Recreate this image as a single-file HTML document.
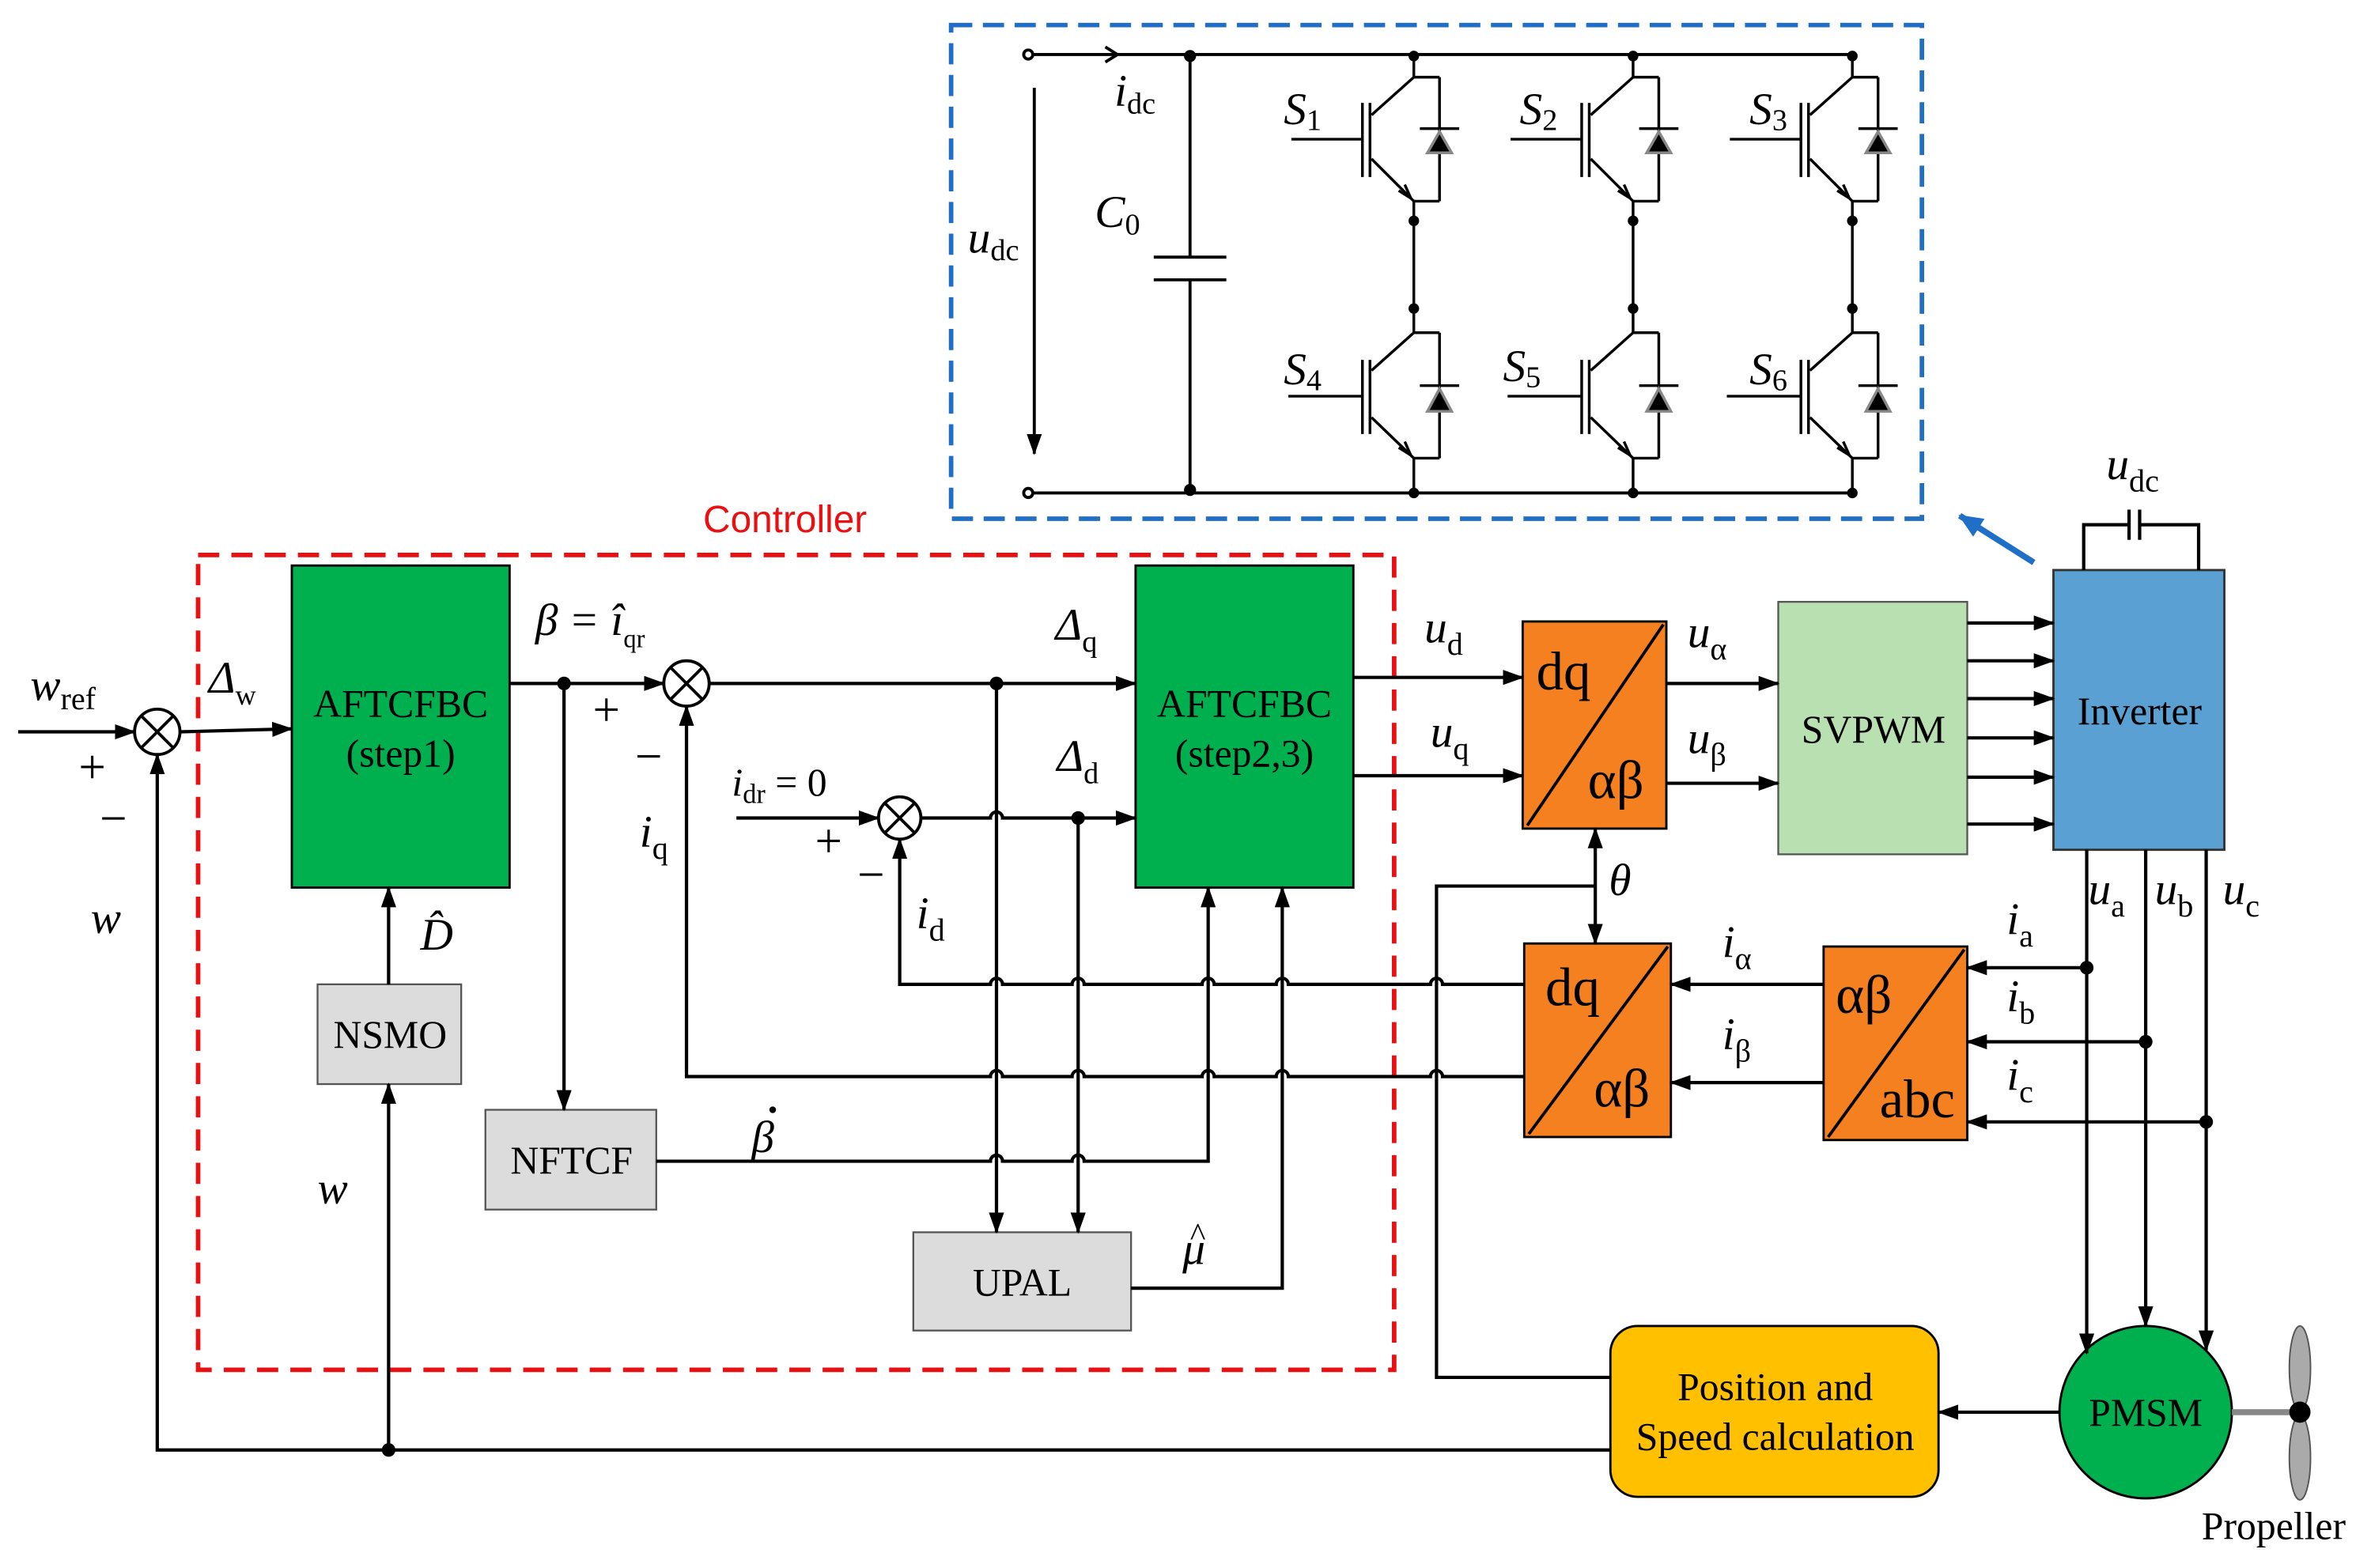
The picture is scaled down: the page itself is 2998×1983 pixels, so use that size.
<!DOCTYPE html>
<html><head><meta charset="utf-8"><style>html,body{margin:0;padding:0;background:#fff}svg{display:block}</style></head>
<body>
<svg width="2998" height="1983" viewBox="0 0 1568 1037" xmlns="http://www.w3.org/2000/svg" font-family="'Liberation Serif',serif">
<defs>
<marker id="a" markerUnits="userSpaceOnUse" markerWidth="14" markerHeight="10" refX="13" refY="5" orient="auto"><path d="M0,0 L14,5 L0,10 z" fill="#000"/></marker>
<marker id="b" markerUnits="userSpaceOnUse" markerWidth="16" markerHeight="14" refX="15" refY="7" orient="auto"><path d="M0,0 L16,7 L0,14 z" fill="#1f6fc8"/></marker>
</defs>
<rect width="1568" height="1037" fill="#fff"/>
<rect x="629" y="16.5" width="642" height="326.5" fill="none" stroke="#1f6fc8" stroke-width="3" stroke-dasharray="14,7"/>
<rect x="131" y="367" width="791" height="539" fill="none" stroke="#e81010" stroke-width="3" stroke-dasharray="14,8"/>
<text x="465" y="352" font-family="'Liberation Sans',sans-serif" font-size="25" fill="#e81010">Controller</text>
<g stroke="#000" stroke-width="2" fill="none">
<line x1="683" y1="36" x2="1225" y2="36"/><line x1="683" y1="326" x2="1225" y2="326"/>
<circle cx="680" cy="36" r="3" fill="#fff"/><circle cx="680" cy="326" r="3" fill="#fff"/>
<polyline points="731,31 739,36 731,41"/>
<line x1="684" y1="58" x2="684" y2="300" marker-end="url(#a)"/>
<line x1="787" y1="36" x2="787" y2="170"/><line x1="763" y1="170" x2="811" y2="170"/><line x1="763" y1="185" x2="811" y2="185"/><line x1="787" y1="185" x2="787" y2="326"/>
</g>
<g fill="#000"><circle cx="787" cy="37" r="4"/><circle cx="787" cy="324" r="4"/></g>
<g id="leg" stroke="#000" stroke-width="1.8" fill="none">
<line x1="935" y1="36" x2="935" y2="51"/><line x1="935" y1="51" x2="907" y2="76"/><line x1="935" y1="51" x2="952" y2="51"/><line x1="952" y1="51" x2="952" y2="133"/>
<line x1="901" y1="68" x2="901" y2="117"/><line x1="906" y1="68" x2="906" y2="117"/><line x1="854" y1="92" x2="901" y2="92"/>
<line x1="907" y1="105" x2="935" y2="133"/><line x1="935" y1="133" x2="952" y2="133"/>
<line x1="939" y1="85" x2="965" y2="85"/><path d="M944,101 L952,87 L960,101 Z" fill="#000" stroke="#888"/>
<path d="M925,126 L933,131 L929,122" fill="none"/>
<line x1="935" y1="133" x2="935" y2="220"/>
<line x1="935" y1="220" x2="907" y2="245"/><line x1="935" y1="220" x2="952" y2="220"/><line x1="952" y1="220" x2="952" y2="303"/>
<line x1="901" y1="238" x2="901" y2="287"/><line x1="906" y1="238" x2="906" y2="287"/><line x1="852" y1="262" x2="901" y2="262"/>
<line x1="907" y1="276" x2="935" y2="303"/><line x1="935" y1="303" x2="952" y2="303"/>
<line x1="939" y1="255" x2="965" y2="255"/><path d="M944,272 L952,257 L960,272 Z" fill="#000" stroke="#888"/>
<path d="M925,296 L933,301 L929,292" fill="none"/>
<line x1="935" y1="303" x2="935" y2="326"/>
<circle cx="935" cy="37" r="3.5" fill="#000" stroke="none"/><circle cx="935" cy="146" r="3.5" fill="#000" stroke="none"/><circle cx="935" cy="204" r="3.5" fill="#000" stroke="none"/><circle cx="935" cy="326" r="3.5" fill="#000" stroke="none"/>
</g>
<use href="#leg" x="145"/><use href="#leg" x="290"/>
<g font-style="italic" font-size="30">
<text x="849" y="82">S<tspan font-size="20" font-style="normal" dy="4">1</tspan></text>
<text x="1005" y="82">S<tspan font-size="20" font-style="normal" dy="4">2</tspan></text>
<text x="1157" y="82">S<tspan font-size="20" font-style="normal" dy="4">3</tspan></text>
<text x="849" y="254">S<tspan font-size="20" font-style="normal" dy="4">4</tspan></text>
<text x="994" y="252">S<tspan font-size="20" font-style="normal" dy="4">5</tspan></text>
<text x="1157" y="254">S<tspan font-size="20" font-style="normal" dy="4">6</tspan></text>
<text x="737" y="70">i<tspan font-size="20" font-style="normal" dy="5">dc</tspan></text>
<text x="724" y="150">C<tspan font-size="20" font-style="normal" dy="5">0</tspan></text>
<text x="640" y="167">u<tspan font-size="20" font-style="normal" dy="5">dc</tspan></text>
</g>
<rect x="193" y="374" width="144" height="213" fill="#00b04f" stroke="#000" stroke-width="1.5"/>
<rect x="751" y="374" width="144" height="213" fill="#00b04f" stroke="#000" stroke-width="1.5"/>
<g font-size="26" text-anchor="middle"><text x="265" y="474">AFTCFBC</text><text x="265" y="507">(step1)</text>
<text x="823" y="474">AFTCFBC</text><text x="823" y="507">(step2,3)</text></g>
<g fill="#dcdcdc" stroke="#555" stroke-width="1.2"><rect x="210" y="651" width="95" height="66"/><rect x="321" y="734" width="113" height="66"/><rect x="604" y="815" width="144" height="65"/></g>
<g font-size="26" text-anchor="middle"><text x="258" y="693">NSMO</text><text x="378" y="776">NFTCF</text><text x="676" y="857">UPAL</text></g>
<g fill="#f5801f" stroke="#000" stroke-width="1.5"><rect x="1007" y="411" width="95" height="137"/><rect x="1008" y="624" width="97" height="128"/><rect x="1206" y="626" width="95" height="128"/></g>
<g stroke="#000" stroke-width="2"><line x1="1010" y1="546" x2="1100" y2="413"/><line x1="1011" y1="750" x2="1103" y2="626"/><line x1="1209" y1="752" x2="1299" y2="628"/></g>
<g font-size="36"><text x="1016" y="456">dq</text><text x="1050" y="528">αβ</text><text x="1022" y="665">dq</text><text x="1054" y="732">αβ</text><text x="1214" y="670">αβ</text><text x="1243" y="739">abc</text></g>
<rect x="1176" y="398" width="125" height="167" fill="#b8e0b0" stroke="#555" stroke-width="1.2"/>
<text x="1239" y="491" font-size="26" text-anchor="middle">SVPWM</text>
<rect x="1358" y="377" width="113" height="185" fill="#5ba0d2" stroke="#333" stroke-width="1.5"/>
<text x="1415" y="479" font-size="26" text-anchor="middle">Inverter</text>
<rect x="1065" y="877" width="217" height="113" rx="18" fill="#ffc000" stroke="#000" stroke-width="1.5"/>
<g font-size="26" text-anchor="middle"><text x="1174" y="926">Position and</text><text x="1174" y="959">Speed calculation</text></g>
<circle cx="1419" cy="934" r="57" fill="#00b04f" stroke="#000" stroke-width="1.5"/>
<text x="1419" y="943" font-size="26" text-anchor="middle">PMSM</text>
<line x1="1476" y1="934" x2="1521" y2="934" stroke="#888" stroke-width="4"/>
<ellipse cx="1521" cy="905" rx="7" ry="28" fill="#aaa" stroke="#555"/><ellipse cx="1521" cy="964" rx="7" ry="28" fill="#aaa" stroke="#555"/>
<circle cx="1521" cy="934" r="7" fill="#000"/>
<text x="1456" y="1018" font-size="26">Propeller</text>
<g fill="#fff" stroke="#000" stroke-width="2">
<circle cx="104" cy="484" r="15"/><circle cx="454" cy="452" r="15"/><circle cx="595" cy="541" r="14"/></g>
<g stroke="#000" stroke-width="2"><path d="M93,473 L115,495 M115,473 L93,495 M443,441 L465,463 M465,441 L443,463 M585,531 L605,551 M605,531 L585,551"/></g>
<g stroke="#000" stroke-width="2.2" fill="none">
<line x1="12" y1="484" x2="89" y2="484" marker-end="url(#a)"/>
<line x1="119" y1="484" x2="193" y2="482" marker-end="url(#a)"/>
<polyline points="1065,959 104,959 104,499" marker-end="url(#a)"/>
<line x1="257" y1="959" x2="257" y2="717" marker-end="url(#a)"/>
<line x1="257" y1="651" x2="257" y2="587" marker-end="url(#a)"/>
<line x1="337" y1="452" x2="439" y2="452" marker-end="url(#a)"/>
<line x1="373" y1="452" x2="373" y2="734" marker-end="url(#a)"/>
<line x1="469" y1="452" x2="751" y2="452" marker-end="url(#a)"/>
<line x1="659" y1="452" x2="659" y2="815" marker-end="url(#a)"/>
<line x1="487" y1="541" x2="581" y2="541" marker-end="url(#a)"/>
<path d="M609,541 L655,541 A4,4 0 0 1 663,541 L751,541" marker-end="url(#a)"/>
<line x1="713" y1="541" x2="713" y2="815" marker-end="url(#a)"/>
<path d="M1008,651 L954,651 A4,4 0 0 0 946,651 L852,651 A4,4 0 0 0 844,651 L803,651 A4,4 0 0 0 795,651 L717,651 A4,4 0 0 0 709,651 L663,651 A4,4 0 0 0 655,651 L595,651 L595,555" marker-end="url(#a)"/>
<path d="M1008,712 L954,712 A4,4 0 0 0 946,712 L852,712 A4,4 0 0 0 844,712 L803,712 A4,4 0 0 0 795,712 L717,712 A4,4 0 0 0 709,712 L663,712 A4,4 0 0 0 655,712 L454,712 L454,467" marker-end="url(#a)"/>
<path d="M434,768 L655,768 A4,4 0 0 1 663,768 L709,768 A4,4 0 0 1 717,768 L799,768 L799,587" marker-end="url(#a)"/>
<polyline points="748,852 848,852 848,587" marker-end="url(#a)"/>
<line x1="895" y1="448" x2="1007" y2="448" marker-end="url(#a)"/>
<line x1="895" y1="513" x2="1007" y2="513" marker-end="url(#a)"/>
<line x1="1102" y1="452" x2="1176" y2="452" marker-end="url(#a)"/>
<line x1="1102" y1="518" x2="1176" y2="518" marker-end="url(#a)"/>
<line x1="1301" y1="412" x2="1358" y2="412" marker-end="url(#a)"/>
<line x1="1301" y1="437" x2="1358" y2="437" marker-end="url(#a)"/>
<line x1="1301" y1="462" x2="1358" y2="462" marker-end="url(#a)"/>
<line x1="1301" y1="488" x2="1358" y2="488" marker-end="url(#a)"/>
<line x1="1301" y1="514" x2="1358" y2="514" marker-end="url(#a)"/>
<line x1="1301" y1="545" x2="1358" y2="545" marker-end="url(#a)"/>
<line x1="1055" y1="586" x2="1055" y2="548" marker-end="url(#a)"/>
<line x1="1055" y1="586" x2="1055" y2="624" marker-end="url(#a)"/>
<polyline points="1055,586 950,586 950,911 1065,911"/>
<line x1="1362" y1="934" x2="1282" y2="934" marker-end="url(#a)"/>
<line x1="1380" y1="562" x2="1380" y2="895" marker-end="url(#a)"/>
<line x1="1419" y1="562" x2="1419" y2="877" marker-end="url(#a)"/>
<line x1="1459" y1="562" x2="1459" y2="893" marker-end="url(#a)"/>
<line x1="1380" y1="640" x2="1301" y2="640" marker-end="url(#a)"/>
<line x1="1419" y1="689" x2="1301" y2="689" marker-end="url(#a)"/>
<line x1="1459" y1="742" x2="1301" y2="742" marker-end="url(#a)"/>
<line x1="1206" y1="651" x2="1105" y2="651" marker-end="url(#a)"/>
<line x1="1206" y1="716" x2="1105" y2="716" marker-end="url(#a)"/>
<polyline points="1378,377 1378,347 1408,347"/><polyline points="1415,347 1454,347 1454,377"/>
<line x1="1408" y1="337" x2="1408" y2="357"/><line x1="1415" y1="337" x2="1415" y2="357"/>
</g>
<line x1="1345" y1="372" x2="1296" y2="341" stroke="#1f6fc8" stroke-width="4" marker-end="url(#b)"/>
<g fill="#000"><circle cx="257" cy="959" r="4.5"/><circle cx="373" cy="452" r="4.5"/><circle cx="659" cy="452" r="4.5"/><circle cx="713" cy="541" r="4.5"/><circle cx="1380" cy="640" r="4.5"/><circle cx="1419" cy="689" r="4.5"/><circle cx="1459" cy="742" r="4.5"/>
<circle cx="511" cy="734" r="2.2"/></g>
<g font-size="30" font-style="italic">
<text x="20" y="463">w<tspan font-size="21" font-style="normal" dy="6">ref</tspan></text>
<text x="60" y="617">w</text><text x="210" y="796">w</text>
<text x="138" y="458">Δ<tspan font-size="19" font-style="normal" dy="8">w</tspan></text>
<text x="354" y="420">β</text><text x="378" y="420" font-style="normal">=</text><text x="404" y="420">î<tspan font-size="17" font-style="normal" dy="8">qr</tspan></text>
<text x="698" y="423">Δ<tspan font-size="20" font-style="normal" dy="8">q</tspan></text>
<text x="699" y="510">Δ<tspan font-size="20" font-style="normal" dy="8">d</tspan></text>
<text x="484" y="526" font-size="26">i<tspan font-size="18" font-style="normal" dy="5">dr</tspan><tspan font-style="normal" dy="-5"> = 0</tspan></text>
<text x="423" y="560">i<tspan font-size="21" font-style="normal" dy="8">q</tspan></text>
<text x="606" y="614">i<tspan font-size="21" font-style="normal" dy="8">d</tspan></text>
<text x="278" y="628">D̂</text>
<text x="497" y="762">β</text>
<text x="782" y="836">μ</text><text x="787" y="824" font-style="normal" font-size="22">^</text>
<text x="942" y="425">u<tspan font-size="21" font-style="normal" dy="8">d</tspan></text>
<text x="946" y="494">u<tspan font-size="21" font-style="normal" dy="8">q</tspan></text>
<text x="1116" y="428">u<tspan font-size="21" font-style="normal" dy="8">α</tspan></text>
<text x="1116" y="498">u<tspan font-size="21" font-style="normal" dy="8">β</tspan></text>
<text x="1064" y="592">θ</text>
<text x="1139" y="633">i<tspan font-size="21" font-style="normal" dy="8">α</tspan></text>
<text x="1139" y="694">i<tspan font-size="21" font-style="normal" dy="8">β</tspan></text>
<text x="1327" y="618">i<tspan font-size="21" font-style="normal" dy="8">a</tspan></text>
<text x="1327" y="669">i<tspan font-size="21" font-style="normal" dy="8">b</tspan></text>
<text x="1327" y="721">i<tspan font-size="21" font-style="normal" dy="8">c</tspan></text>
<text x="1381" y="598">u<tspan font-size="21" font-style="normal" dy="8">a</tspan></text>
<text x="1425" y="598">u<tspan font-size="21" font-style="normal" dy="8">b</tspan></text>
<text x="1470" y="598">u<tspan font-size="21" font-style="normal" dy="8">c</tspan></text>
<text x="1393" y="317">u<tspan font-size="21" font-style="normal" dy="8">dc</tspan></text>
</g>
<g font-size="32"><text x="52" y="518">+</text><text x="66" y="552">−</text><text x="392" y="480">+</text><text x="420" y="511">−</text><text x="539" y="567">+</text><text x="567" y="589">−</text></g>
</svg>
</body></html>
